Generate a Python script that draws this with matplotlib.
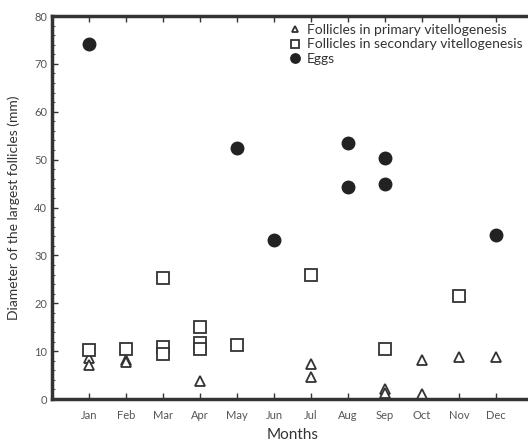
import matplotlib.pyplot as plt

months = ['Jan', 'Feb', 'Mar', 'Apr', 'May', 'Jun', 'Jul', 'Aug', 'Sep', 'Oct', 'Nov', 'Dec']

# (month index 1..12, diameter mm)
primary_month = [1, 1, 2, 2, 4, 7, 7, 9, 9, 10, 10, 11, 12]
primary_diam = [8.5, 7.2, 8.2, 7.8, 3.8, 7.3, 4.6, 2.0, 1.2, 8.2, 1.0, 8.7, 8.8]

secondary_month = [1, 2, 3, 3, 3, 4, 4, 4, 5, 7, 9, 11]
secondary_diam = [10.2, 10.4, 25.3, 10.8, 9.5, 15.1, 11.7, 10.4, 11.3, 26.0, 10.4, 21.5]

eggs_month = [1, 5, 6, 8, 8, 9, 9, 12]
eggs_diam = [74.1, 52.5, 33.2, 53.5, 44.2, 50.3, 45.0, 34.2]

plt.rcParams['font.family'] = ['Lato', 'DejaVu Sans']

fig = plt.figure(figsize=(5.28, 4.41), dpi=100)
ax = fig.add_axes([0.0985, 0.0952, 0.911, 0.8685])

ax.plot(primary_month, primary_diam, linestyle='none', marker='^', markersize=6.5,
        markerfacecolor='white', markeredgecolor='#333333', markeredgewidth=1.3,
        label='Follicles in primary vitellogenesis')
ax.plot(secondary_month, secondary_diam, linestyle='none', marker='s', markersize=8,
        markerfacecolor='white', markeredgecolor='#333333', markeredgewidth=1.3,
        label='Follicles in secondary vitellogenesis')
ax.plot(eggs_month, eggs_diam, linestyle='none', marker='o', markersize=9,
        color='#222222', label='Eggs')

ax.set_xlim(0, 13)
ax.set_ylim(0, 80)
ax.set_xticks(range(1, 13))
ax.set_xticklabels(months)
ax.set_yticks(range(0, 81, 10))
ax.set_yticks(range(0, 81, 2), minor=True)

for s in ['left', 'bottom', 'top']:
    ax.spines[s].set_linewidth(2.5)
    ax.spines[s].set_color('#333333')
ax.spines['right'].set_visible(False)

ax.tick_params(axis='both', which='major', direction='in', length=4, width=1,
               color='#333333', labelsize=8, labelcolor='#555555', top=True)
ax.tick_params(axis='y', which='minor', direction='in', length=2, width=0.8, color='#555555')
ax.tick_params(axis='x', which='major', pad=8)

ax.set_xlabel('Months', fontsize=11, color='#333333', labelpad=5)
ax.set_ylabel('Diameter of the largest follicles (mm)', fontsize=10, color='#333333', labelpad=10)

ax.legend(loc='upper left', bbox_to_anchor=(0.475, 1.0), frameon=False, fontsize=10,
          handletextpad=0.35, labelspacing=0.2, borderaxespad=0.15, handlelength=1.0,
          markerscale=0.75, labelcolor='#333333')

fig.savefig('out.png', dpi=100)
